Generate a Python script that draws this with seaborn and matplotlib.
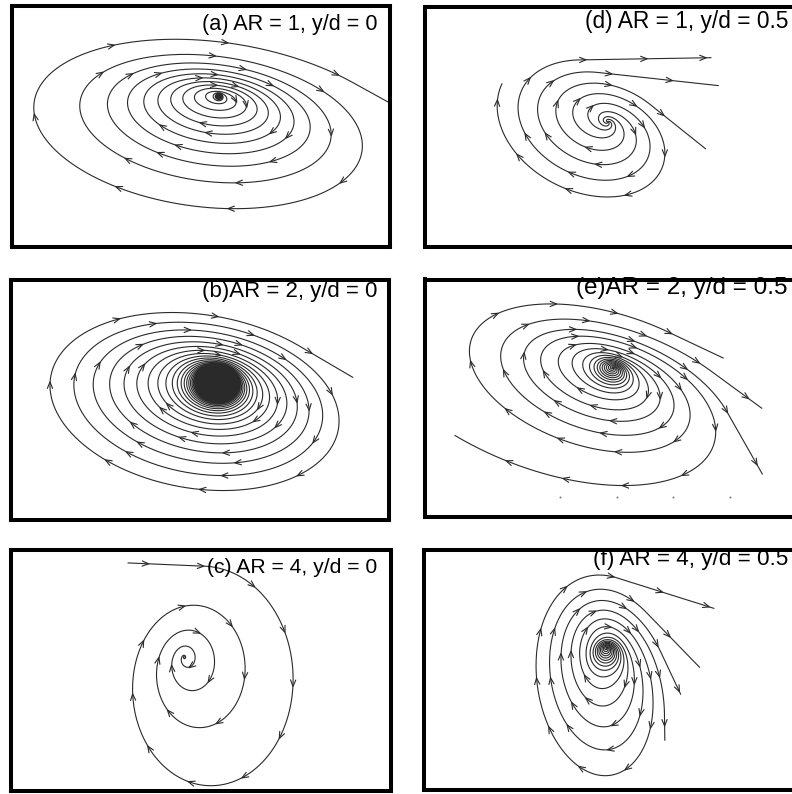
import numpy as np
import matplotlib
matplotlib.use("Agg")
import matplotlib.pyplot as plt
import seaborn as sns

sns.set_theme(style="white")
plt.rcParams["font.family"] = ["Liberation Sans", "DejaVu Sans"]

FIG_W, FIG_H = 792, 794
LINE_C = "#2a2a2a"

# ---------------- data (image pixels) ----------------
labels = ["(a) AR = 1, y/d = 0", "(b)AR = 2, y/d = 0", "(c) AR = 4, y/d = 0",
          "(d) AR = 1, y/d = 0.5", "(e)AR = 2, y/d = 0.5", "(f) AR = 4, y/d = 0.5"]
# vortex core location
core_x = [219, 219, 184, 608, 613, 607]
core_y = [96, 381, 657, 122, 368, 648]
# shape of the streamline loops
tilt_deg = [8, 10, 90, 25, 20, 80]
aspect = [0.48, 0.58, 0.78, 0.70, 0.52, 0.62]
core_aspect = [0.85, 0.78, 0.78, 0.80, 0.70, 0.95]
drift_x = [-0.05, -0.13, 0.18, -0.10, -0.07, 0.0]
drift_y = [0.20, 0.16, 0.30, 0.15, 0.22, 0.45]
winding = [1, 1, -1, 1, 1, 1]          # +1: loops grow clockwise on screen
flow_out = [True, True, False, True, True, True]
# radial growth per turn: p0 + p1*r + p3*(r/100)^3, damped inside the core
pitch0 = [11, 10.5, 11, 56, 60, 60]
pitch1 = [0.0, 0.0, 0.45, 0.25, 0.0, 0.0]
pitch3 = [9, 4, 0, 0, 40, 25]
core_r = [7, 44, 3, 12, 30, 24]
core_eps = [0.04, 0.04, 0.10, 0.25, 0.13, 0.10]
# outer end of the streamlines
end_r = [205, 160, 130, 110, 190, 140]
end_angle = [-20, -30, -92, -150, 170, -85]
arm_extra = [[0], [0], [0], [0, 55, 65, 110], [0, 150, 175, 205], [0, 25, 50, 90]]
arm_scale = [[1], [1], [1], [1, 1, 1, 1], [1, 0.85, 0.85, 0.85], [1, 1, 1, 1]]
arm_tail = [[85], [60], [75], [0, 130, 120, 70], [0, 60, 60, 70], [100, 75, 45, 25]]
arrow_gap = [115, 100, 55, 60, 60, 50]
arrow_rmin = [15, 50, 8, 24, 40, 32]
# stray dots near the bottom of panel (e)
dot_x = [560, 617, 673, 730]
dot_y = [497, 497, 497, 497]

# ---------------- layout (figure pixels: left, top, right, bottom) ----------------
frames = [(12, 6, 390, 247), (10.5, 280, 389, 520), (11, 550, 390.5, 791),
          (425, 6.5, 800, 246.5), (425, 279.5, 800, 517), (424, 550, 800, 790)]
label_right = [377, 377, 377, 788, 787, 788]
label_base = [30, 297, 573, 28, 294, 565]
label_size = [15.6, 16.0, 15.2, 16.4, 17.5, 16.2]


def build_arms(i):
    cx, cy = core_x[i], core_y[i]
    t = np.deg2rad(tilt_deg[i])
    ct, st = np.cos(t), np.sin(t)
    w = winding[i]
    rc, eps = core_r[i], core_eps[i]
    extras = np.deg2rad(arm_extra[i])
    n = len(extras)
    dth = 0.012
    r, th = 0.4, 0.0
    rs, ths = [r], [th]
    th_end0 = None
    th_stop = None
    while True:
        s = pitch0[i] + pitch1[i] * r + pitch3[i] * (r / 100.0) ** 3
        s *= eps + (1 - eps) * r ** 4 / (r ** 4 + rc ** 4)
        r += s / (2 * np.pi) * dth
        th += dth
        rs.append(r)
        ths.append(th)
        if th_end0 is None and r >= end_r[i]:
            th_end0 = th
            th_stop = th_end0 + max(extras[k] - k * 2 * np.pi / n for k in range(n)) + 0.05
        if th_stop is not None and th >= th_stop:
            break
        if r > 6 * end_r[i]:
            break
    rs, ths = np.array(rs), np.array(ths)
    asp_end = aspect[i]
    a = np.deg2rad(end_angle[i])
    ux, uy = np.cos(a), np.sin(a)
    lx, ly = ux * ct + uy * st, -ux * st + uy * ct
    psi_end = np.arctan2(ly / asp_end, lx)
    shift = psi_end - w * th_end0
    arms = []
    for k in range(n):
        th_k = th_end0 + extras[k] - k * 2 * np.pi / n
        m = ths <= th_k
        rr = rs[m]
        g = arm_scale[i][k]
        rr = rr * (1 - (1 - g) * np.clip(rr / end_r[i], 0, None) ** 2)
        cw = rc ** 4 / (rr ** 4 + rc ** 4)
        asp = aspect[i] + (core_aspect[i] - aspect[i]) * cw
        psi = w * (ths[m] + k * 2 * np.pi / n) + shift
        x0 = rr * np.cos(psi)
        y0 = asp * rr * np.sin(psi)
        X = cx + drift_x[i] * rr + x0 * ct - y0 * st
        Y = cy + drift_y[i] * rr + x0 * st + y0 * ct
        L = arm_tail[i][k]
        if L > 0:
            d = np.array([X[-1] - X[-4], Y[-1] - Y[-4]])
            d /= np.hypot(*d)
            ss = np.linspace(0, L, int(L / 2) + 2)[1:]
            X = np.concatenate([X, X[-1] + d[0] * ss])
            Y = np.concatenate([Y, Y[-1] + d[1] * ss])
            rr = np.concatenate([rr, np.full(len(ss), rr[-1] + 1)])
        arms.append((X, Y, rr))
    return arms


def arrow_marks(X, Y, rr, gap, offset, rmin, forward):
    seg = np.hypot(np.diff(X), np.diff(Y))
    cum = np.concatenate([[0], np.cumsum(seg)])
    px, py = [], []
    s = offset
    while s < cum[-1] - 4:
        idx = int(np.searchsorted(cum, s))
        idx = min(max(idx, 1), len(X) - 2)
        if rr[idx] > rmin:
            d = np.array([X[idx + 1] - X[idx - 1], Y[idx + 1] - Y[idx - 1]])
            nd = np.hypot(*d)
            if nd > 0:
                d /= nd
                if not forward:
                    d = -d
                nrm = np.array([-d[1], d[0]])
                tip = np.array([X[idx], Y[idx]]) + d * 3.0
                back = tip - d * 6.5
                w1 = back + nrm * 2.6
                w2 = back - nrm * 2.6
                px += [w1[0], tip[0], w2[0], np.nan]
                py += [w1[1], tip[1], w2[1], np.nan]
        s += gap
    return px, py


fig = plt.figure(figsize=(FIG_W / 100, FIG_H / 100), dpi=100)
fig.patch.set_facecolor("white")

for i in range(6):
    l, t, r, b = frames[i]
    ax = fig.add_axes([l / FIG_W, 1 - b / FIG_H, (r - l) / FIG_W, (b - t) / FIG_H])
    ax.set_facecolor("white")
    arms = build_arms(i)
    for k, (X, Y, rr) in enumerate(arms):
        sns.lineplot(x=X, y=Y, sort=False, estimator=None, ax=ax, color=LINE_C,
                     linewidth=0.8, legend=False)
        off = arrow_gap[i] * (0.35 + 0.29 * k) % arrow_gap[i] + 10
        px, py = arrow_marks(X, Y, rr, arrow_gap[i], off, arrow_rmin[i], flow_out[i])
        ax.plot(px, py, color=LINE_C, linewidth=0.8)
    if i == 4:
        sns.scatterplot(x=dot_x, y=dot_y, ax=ax, color="#777777", s=2, linewidth=0, legend=False)
    ax.set_xlim(l, r)
    ax.set_ylim(b, t)
    ax.set_xticks([])
    ax.set_yticks([])
    ax.set_xlabel("")
    ax.set_ylabel("")
    for sp in ax.spines.values():
        sp.set_visible(True)
        sp.set_color("black")
        sp.set_linewidth(2.9)
    fig.text(label_right[i] / FIG_W, 1 - label_base[i] / FIG_H, labels[i],
             ha="right", va="baseline", fontsize=label_size[i], color="black")

fig.savefig("out.png", dpi=100, facecolor="white")
